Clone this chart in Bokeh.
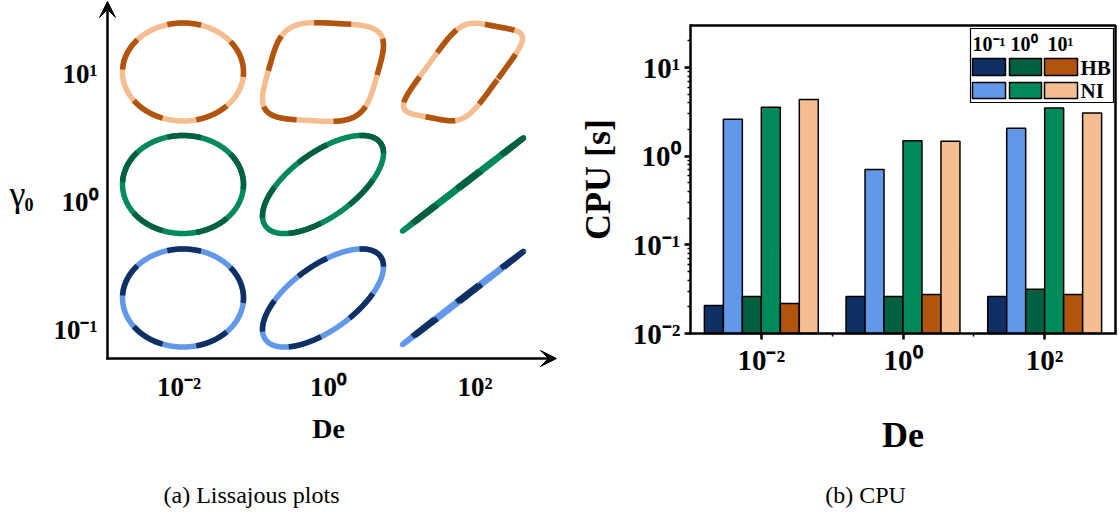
import numpy as np
from bokeh.plotting import figure
from bokeh.models import (Range1d, FixedTicker, Arrow, VeeHead, LogTicker, LogScale, LinearScale,
                          LinearAxis, LogAxis, CustomJSTickFormatter)
from bokeh.core.properties import value
from bokeh.embed import file_html
from bokeh.resources import INLINE

# ---------------- data ----------------
de_labels = ["10⁻²", "10⁰", "10²"]
gamma_labels = ["10⁻¹", "10⁰", "10¹"]
y_tick_labels = ["10⁻²", "10⁻¹", "10⁰", "10¹"]
y_tick_exps = [-2, -1, 0, 1]
methods = ["HB", "NI"]

# CPU time [s] per De (10^-2, 10^0, 10^2)
cpu_hb_g01 = [0.0207, 0.0261, 0.0261]
cpu_ni_g01 = [2.61, 0.708, 2.07]
cpu_hb_g1 = [0.0261, 0.0261, 0.0316]
cpu_ni_g1 = [3.57, 1.50, 3.51]
cpu_hb_g10 = [0.0218, 0.0275, 0.0275]
cpu_ni_g10 = [4.36, 1.48, 3.08]

# colours: (HB, NI) for gamma0 = 10^-1, 10^0, 10^1
hb_colors = ["#103064", "#00603F", "#B0540E"]
ni_colors = ["#6198EA", "#008A5C", "#F5BE91"]

# Lissajous loop shapes (rows: gamma0 = 10^-1, 10^0, 10^1; cols: De = 10^-2, 10^0, 10^2)
# normalised loop = affine map of a superellipse of exponent n
loop_n = [[2, 2, 2], [2, 2, 2], [2, 4, 5]]
loop_a11 = [[1.0, 1.0, 1.0], [1.0, 1.0, 1.0], [1.0, 0.895, 0.58]]
loop_a12 = [[0.0, 0.0, 0.0], [0.0, 0.0, 0.0], [0.0, 0.226, 0.55]]
loop_a21 = [[0.0, 0.64, 0.95], [0.0, 0.64, 0.95], [0.0, -0.06, -0.135]]
loop_a22 = [[1.0, 0.77, 0.02], [1.0, 0.77, 0.02], [1.0, 0.99, 0.93]]
loop_segments = [[10, 10, 11], [10, 10, 11], [10, 10, 11]]  # dash count along each loop

FONT = value("Liberation Serif")
W, H = 1119, 518

# CPU panel geometry (frame in page pixels)
FL, FR, FT, FB = 690, 1115, 25, 333
X0, X1 = -0.5, 2.5
LOG0, LOG1 = -2.0, 1.475
YBOT, YTOP = 10 ** LOG0, 10 ** LOG1
sx = (X1 - X0) / (FR - FL)
sy = (LOG1 - LOG0) / (FB - FT)
cat_range = Range1d(X0 - FL * sx, X1 + (W - FR) * sx)
cpu_range = Range1d(10 ** (LOG0 - (H - FB) * sy), 10 ** (LOG1 + FT * sy))

p = figure(width=W, height=H, x_range=Range1d(0, W), y_range=Range1d(H, 0),
           min_border=0, toolbar_location=None, output_backend="svg",
           x_axis_location=None, y_axis_location=None)
p.extra_x_ranges = {"cat": cat_range}
p.extra_y_ranges = {"cpu": cpu_range}
p.extra_x_scales = {"cat": LinearScale()}
p.extra_y_scales = {"cpu": LogScale()}
p.grid.visible = False
p.outline_line_color = None

# ---------------- (a) Lissajous panel ----------------
col_cx = [182.5, 322.5, 462.5]
row_cy = [297.5, 184.0, 71.5]
HW, HH = 60.5, 49.0
t = np.linspace(0, 2 * np.pi, 721)
for r in range(3):
    for c in range(3):
        n = loop_n[r][c]
        Xb = np.sign(np.cos(t)) * np.abs(np.cos(t)) ** (2.0 / n)
        Yb = np.sign(np.sin(t)) * np.abs(np.sin(t)) ** (2.0 / n)
        u = loop_a11[r][c] * Xb + loop_a12[r][c] * Yb
        v = loop_a21[r][c] * Xb + loop_a22[r][c] * Yb
        xs = col_cx[c] + HW * u
        ys = row_cy[r] - HH * v
        total = float(np.sum(np.hypot(np.diff(xs), np.diff(ys))))
        d = max(1, int(round(total / loop_segments[r][c])))
        p.line(xs, ys, line_color=ni_colors[r], line_width=5.5, line_cap="round", line_join="round")
        p.line(xs, ys, line_color=hb_colors[r], line_width=5.5, line_dash=f"{d} {d}", line_join="round")

p.add_layout(Arrow(end=VeeHead(size=16, fill_color="black", line_color="black", line_width=1),
                   x_start=107, y_start=359, x_end=107, y_end=1, line_width=2.5, line_color="black"))
p.add_layout(Arrow(end=VeeHead(size=16, fill_color="black", line_color="black", line_width=1),
                   x_start=106, y_start=358, x_end=556, y_end=358, line_width=2.5, line_color="black"))

p.text(x=[178.5, 327.5, 474.5], y=[386, 386, 386], text=de_labels, text_align="center",
       text_baseline="middle", text_font=FONT, text_font_style="bold", text_font_size="27px")
p.text(x=[97, 97, 97], y=[329, 201, 73], text=gamma_labels, text_align="right",
       text_baseline="middle", text_font=FONT, text_font_style="bold", text_font_size="27px")
p.text(x=[328], y=[428], text=["De"], text_align="center", text_baseline="middle",
       text_font=FONT, text_font_style="bold", text_font_size="28px")
p.text(x=[9], y=[193], text=["γ"], text_align="left", text_baseline="middle",
       text_font=FONT, text_font_size="36px")
p.text(x=[24], y=[204], text=["0"], text_align="left", text_baseline="middle",
       text_font=FONT, text_font_style="bold", text_font_size="18px")
p.text(x=[251], y=[494], text=["(a) Lissajous plots"], text_align="center",
       text_baseline="middle", text_font=FONT, text_font_size="24px")

# ---------------- (b) CPU panel ----------------
bw = 0.134
series = [cpu_hb_g01, cpu_ni_g01, cpu_hb_g1, cpu_ni_g1, cpu_hb_g10, cpu_ni_g10]
series_colors = [hb_colors[0], ni_colors[0], hb_colors[1], ni_colors[1], hb_colors[2], ni_colors[2]]
xc = np.arange(3)
for k, (vals, col) in enumerate(zip(series, series_colors)):
    off = (k - 2.5) * bw
    p.vbar(x=xc + off, top=vals, bottom=YBOT, width=bw, fill_color=col,
           line_color="black", line_width=1.5, x_range_name="cat", y_range_name="cpu")

# frame top / right edges
p.line(x=[X0, X1, X1], y=[YTOP, YTOP, YBOT], line_color="black", line_width=2.5,
       x_range_name="cat", y_range_name="cpu")

xaxis = LinearAxis(x_range_name="cat", y_range_name="cpu", fixed_location=YBOT, bounds=(X0, X1),
                   ticker=FixedTicker(ticks=[0, 1, 2], minor_ticks=[0.5, 1.5]),
                   major_label_overrides={0: de_labels[0], 1: de_labels[1], 2: de_labels[2]},
                   axis_label="De")
yaxis = LogAxis(x_range_name="cat", y_range_name="cpu", fixed_location=X0, bounds=(YBOT, YTOP),
                ticker=LogTicker(num_minor_ticks=10),
                formatter=CustomJSTickFormatter(args=dict(labels=y_tick_labels, exps=y_tick_exps), code="""
const e = Math.round(Math.log10(tick));
const i = exps.indexOf(e);
return i >= 0 ? labels[i] : "";
"""),
                axis_label="CPU [s]")
for ax in (xaxis, yaxis):
    ax.axis_line_width = 2.5
    ax.axis_line_color = "black"
    ax.axis_line_cap = "square"
    ax.major_tick_line_width = 2.5
    ax.major_tick_in = 0
    ax.major_tick_out = 6
    ax.minor_tick_in = 0
    ax.minor_tick_out = 3
    ax.minor_tick_line_width = 1.5
    ax.major_label_text_font = "Liberation Serif"
    ax.major_label_text_font_style = "bold"
    ax.major_label_text_font_size = "29px"
    ax.major_label_text_color = "black"
    ax.axis_label_text_font = "Liberation Serif"
    ax.axis_label_text_font_style = "bold"
    ax.axis_label_text_font_size = "36px"
    ax.axis_label_text_color = "black"
    ax.major_label_standoff = 4
xaxis.axis_label_standoff = 36
yaxis.axis_label_standoff = 12
p.add_layout(xaxis, "below")
p.add_layout(yaxis, "left")

# legend (drawn in page pixels)
p.quad(left=[970], right=[1113], top=[28], bottom=[102], fill_color="white",
       line_color="black", line_width=1.2)
sw_l = [972, 1009, 1044]
sw_r = [1005, 1041, 1077]
p.quad(left=sw_l, right=sw_r, top=[58] * 3, bottom=[75] * 3, fill_color=hb_colors,
       line_color="black", line_width=1.5)
p.quad(left=sw_l, right=sw_r, top=[82] * 3, bottom=[98] * 3, fill_color=ni_colors,
       line_color="black", line_width=1.5)
p.text(x=[972, 1010, 1047], y=[43] * 3, text=gamma_labels, text_baseline="middle",
       text_align="left", text_font=FONT, text_font_style="bold", text_font_size="20px")
p.text(x=[1080, 1080], y=[67, 90], text=methods, text_baseline="middle",
       text_align="left", text_font=FONT, text_font_style="bold", text_font_size="21px")

p.text(x=[865], y=[494], text=["(b) CPU"], text_align="center",
       text_baseline="middle", text_font=FONT, text_font_size="24px")

open("out.html", "w").write(file_html(p, INLINE))
